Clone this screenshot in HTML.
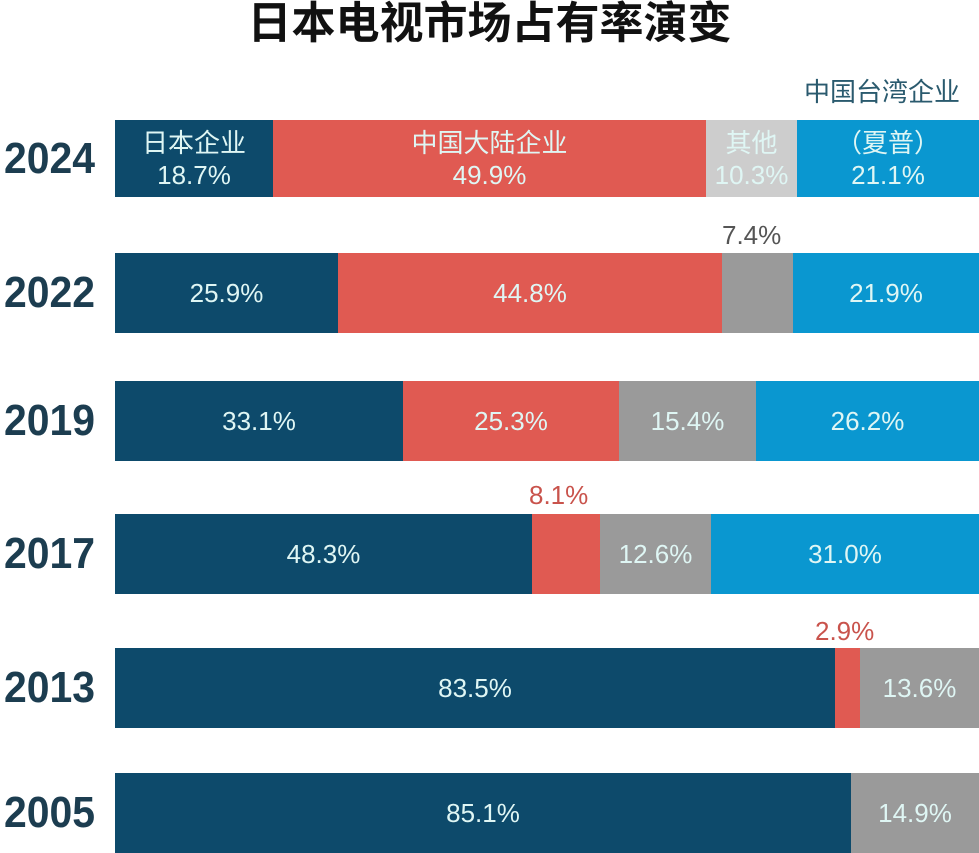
<!DOCTYPE html><html><head><meta charset="utf-8"><style>
body{margin:0;width:979px;height:853px;background:#fff;position:relative;overflow:hidden;font-family:"Liberation Sans","Noto Sans CJK SC",sans-serif}
.s{position:absolute;display:flex;align-items:center;justify-content:center;flex-direction:column;color:#dff6f4;font-size:26px;line-height:32px;text-align:center;white-space:nowrap}
.y{position:absolute;left:4px;font-weight:bold;font-size:44px;color:#1c3d50;transform:scaleX(0.93);transform-origin:left}
.t{position:absolute;font-size:26px;white-space:nowrap}
.n{background:#0d4a6b}.r{background:#e05a52}.g{background:#9a9a9a}.b{background:#0a97d0}.lg{background:#cdcdcd}
</style></head><body>
<div style="position:absolute;left:0;width:979px;top:-2px;text-align:center;font-weight:bold;font-size:44px;line-height:52px;color:#111">日本电视市场占有率演变</div>
<div class="t" style="left:804px;top:72px;color:#2a5a6e;font-size:26px">中国台湾企业</div>

<div class="y" style="top:134px">2024</div>
<div class="s n" style="left:115px;width:158px;top:120px;height:77px">日本企业<br>18.7%</div>
<div class="s r" style="left:273px;width:433px;top:120px;height:77px">中国大陆企业<br>49.9%</div>
<div class="s lg" style="left:706px;width:91px;top:120px;height:77px">其他<br>10.3%</div>
<div class="s b" style="left:797px;width:182px;top:120px;height:77px">（夏普）<br>21.1%</div>

<div class="t" style="left:722px;top:220px;color:#555">7.4%</div>
<div class="y" style="top:268px">2022</div>
<div class="s n" style="left:115px;width:223px;top:253px;height:80px">25.9%</div>
<div class="s r" style="left:338px;width:384px;top:253px;height:80px">44.8%</div>
<div class="s g" style="left:722px;width:71px;top:253px;height:80px"></div>
<div class="s b" style="left:793px;width:186px;top:253px;height:80px">21.9%</div>

<div class="y" style="top:396px">2019</div>
<div class="s n" style="left:115px;width:288px;top:381px;height:80px">33.1%</div>
<div class="s r" style="left:403px;width:216px;top:381px;height:80px">25.3%</div>
<div class="s g" style="left:619px;width:137px;top:381px;height:80px">15.4%</div>
<div class="s b" style="left:756px;width:223px;top:381px;height:80px">26.2%</div>

<div class="t" style="left:529px;top:480px;color:#c9534c">8.1%</div>
<div class="y" style="top:529px">2017</div>
<div class="s n" style="left:115px;width:417px;top:514px;height:80px">48.3%</div>
<div class="s r" style="left:532px;width:68px;top:514px;height:80px"></div>
<div class="s g" style="left:600px;width:111px;top:514px;height:80px">12.6%</div>
<div class="s b" style="left:711px;width:268px;top:514px;height:80px">31.0%</div>

<div class="t" style="left:815px;top:616px;color:#c9534c">2.9%</div>
<div class="y" style="top:663px">2013</div>
<div class="s n" style="left:115px;width:720px;top:648px;height:80px">83.5%</div>
<div class="s r" style="left:835px;width:25px;top:648px;height:80px"></div>
<div class="s g" style="left:860px;width:119px;top:648px;height:80px">13.6%</div>

<div class="y" style="top:788px">2005</div>
<div class="s n" style="left:115px;width:736px;top:773px;height:80px">85.1%</div>
<div class="s g" style="left:851px;width:128px;top:773px;height:80px">14.9%</div>
</body></html>
